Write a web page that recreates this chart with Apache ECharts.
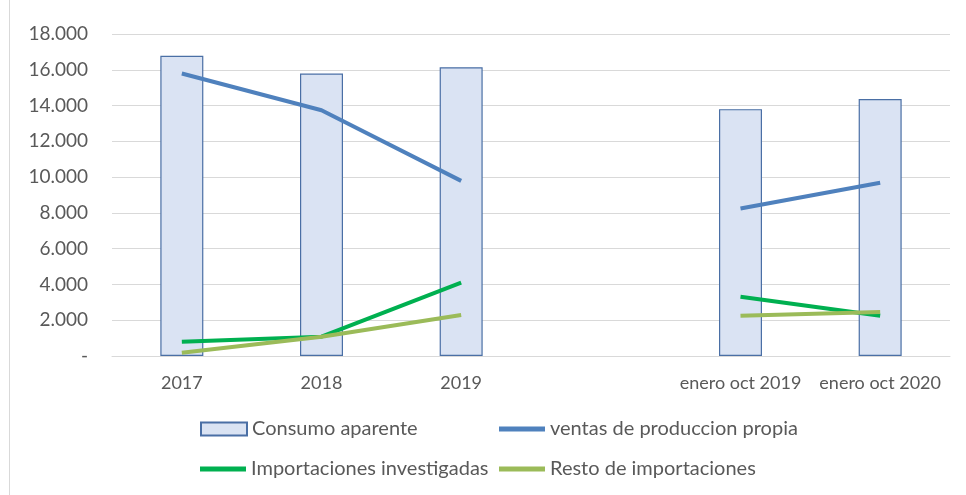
<!DOCTYPE html>
<html>
<head>
<meta charset="UTF-8">
<title></title>
<script src="https://cdn.jsdelivr.net/npm/echarts@6/dist/echarts.min.js"></script>
<style type="text/css">
  * {margin: 0; padding: 0;}
  body {background: #fff;}
</style>
</head>
<body>
<div id="chart" style="width:966px;height:495px"></div>
<script type="text/javascript">
var categories = ['2017', '2018', '2019', '', 'enero oct 2019', 'enero oct 2020'];
var consumo = [16780, 15790, 16140, null, 13800, 14360];
var ventas = [15790, 13740, 9790, null, 8250, 9680];
var importaciones = [800, 1080, 4100, null, 3310, 2250];
var resto = [180, 1080, 2290, null, 2250, 2460];
var yTicks = [0, 2000, 4000, 6000, 8000, 10000, 12000, 14000, 16000, 18000];

var font = 'Lato, "Liberation Sans", sans-serif';
var textColor = '#595959';

function fmt(v) {
  if (v === 0) return '-';
  return String(v).replace(/\B(?=(\d{3})+(?!\d))/g, '.');
}

// one legend per item so the two rows line up like the original
function legendAt(name, left, top, h) {
  return {
    data: [name],
    left: left,
    top: top,
    padding: 0,
    icon: 'rect',
    itemWidth: 46,
    itemHeight: h,
    itemGap: 0,
    selectedMode: false,
    textStyle: {fontFamily: font, fontSize: 20, color: textColor}
  };
}

var chart = echarts.init(document.getElementById('chart'));

var option = {
  animation: false,
  grid: {left: 112, right: 16, top: 34, bottom: 139},
  graphic: [{
    type: 'line',
    shape: {x1: 9.5, y1: 0, x2: 9.5, y2: 495},
    style: {stroke: '#d9d9d9', lineWidth: 1}
  }],
  legend: [
    legendAt('Consumo aparente', 200, 419, 13),
    legendAt('ventas de produccion propia', 499, 419, 5),
    legendAt('Importaciones investigadas', 200, 459, 5),
    legendAt('Resto de importaciones', 499, 459, 5)
  ],
  xAxis: {
    type: 'category',
    data: categories,
    axisTick: {show: false},
    axisLine: {lineStyle: {color: '#d9d9d9'}},
    axisLabel: {fontFamily: font, fontSize: 18, color: textColor, margin: 18, interval: 0}
  },
  yAxis: {
    type: 'value',
    min: yTicks[0],
    max: yTicks[yTicks.length - 1],
    interval: 2000,
    axisLine: {show: false},
    axisTick: {show: false},
    splitLine: {lineStyle: {color: '#d9d9d9', width: 1}},
    axisLabel: {fontFamily: font, fontSize: 19, color: textColor, margin: 24, formatter: fmt}
  },
  series: [
    {
      name: 'Consumo aparente',
      type: 'bar',
      data: consumo,
      barWidth: 43,
      itemStyle: {color: '#dae3f3', borderColor: '#4a6fa5', borderWidth: 1.2}
    },
    {
      name: 'ventas de produccion propia',
      type: 'line',
      data: ventas,
      showSymbol: false,
      symbol: 'none',
      lineStyle: {color: '#4f81bd', width: 4},
      itemStyle: {color: '#4f81bd'}
    },
    {
      name: 'Importaciones investigadas',
      type: 'line',
      data: importaciones,
      showSymbol: false,
      symbol: 'none',
      lineStyle: {color: '#00b050', width: 4},
      itemStyle: {color: '#00b050'}
    },
    {
      name: 'Resto de importaciones',
      type: 'line',
      data: resto,
      showSymbol: false,
      symbol: 'none',
      lineStyle: {color: '#9bbb59', width: 4},
      itemStyle: {color: '#9bbb59'}
    }
  ]
};

chart.setOption(option);
</script>
</body>
</html>
